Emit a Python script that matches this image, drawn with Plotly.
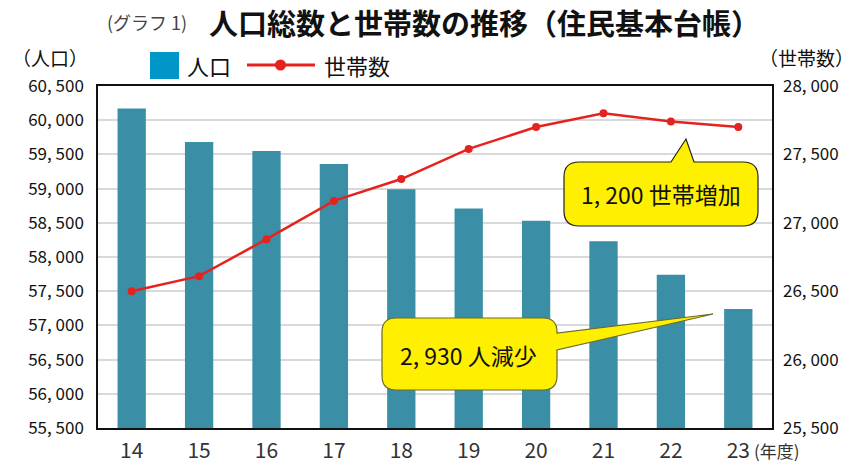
import plotly.graph_objects as go

# ---- data ----
years = ["14", "15", "16", "17", "18", "19", "20", "21", "22", "23"]
population = [60170, 59680, 59550, 59360, 58990, 58710, 58530, 58230, 57740, 57240]
households = [26500, 26610, 26880, 27160, 27320, 27540, 27700, 27800, 27740, 27700]

left_ticks = [55500, 56000, 56500, 57000, 57500, 58000, 58500, 59000, 59500, 60000, 60500]
right_ticks = [25500, 26000, 26500, 27000, 27500, 28000]

def fmt(v):
    return f"{v:,}".replace(",", ", ")

FONT = "Noto Sans CJK JP"
W, H = 858, 469
L, R, T, B = 98, 772, 86, 428

def px(x):
    return (x - L) / (R - L)

def py(y):
    return (B - y) / (B - T)

fig = go.Figure()
fig.add_trace(go.Bar(
    x=years, y=population, name="人口",
    marker=dict(color="#3a8ea6", line=dict(width=0)),
    width=0.42, showlegend=False,
))
fig.add_trace(go.Scatter(
    x=years, y=households, name="世帯数", yaxis="y2",
    mode="lines+markers",
    line=dict(color="#e4231f", width=2.5),
    marker=dict(color="#e4231f", size=8),
    showlegend=False,
))

def callout_path(pts_cmds):
    out = []
    for c in pts_cmds:
        if c[0] in ("M", "L"):
            out.append(f"{c[0]}{px(c[1]):.5f},{py(c[2]):.5f}")
        elif c[0] == "Q":
            out.append(f"Q{px(c[1]):.5f},{py(c[2]):.5f} {px(c[3]):.5f},{py(c[4]):.5f}")
        elif c[0] == "Z":
            out.append("Z")
    return " ".join(out)

def box_with_top_pointer(l, r, t, b, rad, b1, b2, ax, ay):
    return callout_path([
        ("M", l + rad, t), ("L", b1, t), ("L", ax, ay), ("L", b2, t), ("L", r - rad, t),
        ("Q", r, t, r, t + rad), ("L", r, b - rad), ("Q", r, b, r - rad, b),
        ("L", l + rad, b), ("Q", l, b, l, b - rad), ("L", l, t + rad),
        ("Q", l, t, l + rad, t), ("Z",),
    ])

def box_with_right_pointer(l, r, t, b, rad, b1, b2, ax, ay):
    return callout_path([
        ("M", l + rad, t), ("L", r - rad, t), ("Q", r, t, r, t + rad),
        ("L", r, b1), ("L", ax, ay), ("L", r, b2),
        ("L", r, b - rad), ("Q", r, b, r - rad, b),
        ("L", l + rad, b), ("Q", l, b, l, b - rad), ("L", l, t + rad),
        ("Q", l, t, l + rad, t), ("Z",),
    ])

shapes = [
    dict(type="path", xref="paper", yref="paper",
         path=box_with_top_pointer(564, 758, 162, 226, 15, 671, 694, 686, 139),
         fillcolor="#fff000", line=dict(color="#222222", width=1.2)),
    dict(type="path", xref="paper", yref="paper",
         path=box_with_right_pointer(382, 557, 318, 390, 14, 333, 350, 713, 314),
         fillcolor="#fff000", line=dict(color="#6b6a2a", width=1.2)),
    # custom legend
    dict(type="rect", xref="paper", yref="paper",
         x0=px(150), x1=px(179), y0=py(79), y1=py(52),
         fillcolor="#0096c8", line=dict(width=0)),
    dict(type="line", xref="paper", yref="paper",
         x0=px(247), x1=px(315), y0=py(65), y1=py(65),
         line=dict(color="#e4231f", width=3)),
    dict(type="circle", xref="paper", yref="paper",
         x0=px(275), x1=px(286), y0=py(70.5), y1=py(59.5),
         fillcolor="#e4231f", line=dict(width=0)),
]

def ann(text, x, y, size, color="#111111", xanchor="center"):
    return dict(text=text, x=px(x), y=py(y), xref="paper", yref="paper",
                xanchor=xanchor, yanchor="middle", showarrow=False,
                font=dict(family=FONT, size=size, color=color))

annotations = [
    ann("(グラフ 1)", 147, 22, 18, "#444444"),
    ann("<b>人口総数と世帯数の推移（住民基本台帳）</b>", 484, 22, 29),
    ann("（人口）", 50, 58, 19),
    ann("（世帯数）", 806, 58, 19),
    ann("人口", 185, 65, 22, xanchor="left"),
    ann("世帯数", 322, 65, 22, xanchor="left"),
    ann("(年度)", 752, 450, 17, "#333333", xanchor="left"),
    ann("1, 200 世帯増加", 661, 194, 23),
    ann("2, 930 人減少", 468, 355, 23),
]

fig.update_layout(
    width=W, height=H,
    margin=dict(l=L, r=W - R, t=T, b=H - B, autoexpand=False),
    paper_bgcolor="white", plot_bgcolor="white",
    font=dict(family=FONT, color="#222222"),
    shapes=shapes, annotations=annotations,
    xaxis=dict(
        type="category", range=[-0.5, 9.5], automargin=False,
        showline=True, mirror=True, linecolor="#111111", linewidth=1.5,
        showgrid=False, ticks="",
        tickfont=dict(family=FONT, size=21, color="#333333"),
        ticklabelstandoff=3,
    ),
    yaxis=dict(
        range=[55500, 60500], automargin=False,
        tickvals=left_ticks, ticktext=[fmt(v) for v in left_ticks],
        showline=True, mirror=True, linecolor="#111111", linewidth=1.5,
        showgrid=True, gridcolor="#d9d9d9", gridwidth=1.5,
        zeroline=False, ticks="",
        tickfont=dict(family=FONT, size=17, color="#111111"),
        ticklabelstandoff=9,
    ),
    yaxis2=dict(
        overlaying="y", side="right", automargin=False,
        range=[25500, 28000],
        tickvals=right_ticks, ticktext=[fmt(v) for v in right_ticks],
        showgrid=False, zeroline=False, ticks="",
        tickfont=dict(family=FONT, size=17, color="#111111"),
        ticklabelstandoff=10,
    ),
)

fig.write_html("out.html", config={"displayModeBar": False},
               post_script="document.body.style.margin='0';")
